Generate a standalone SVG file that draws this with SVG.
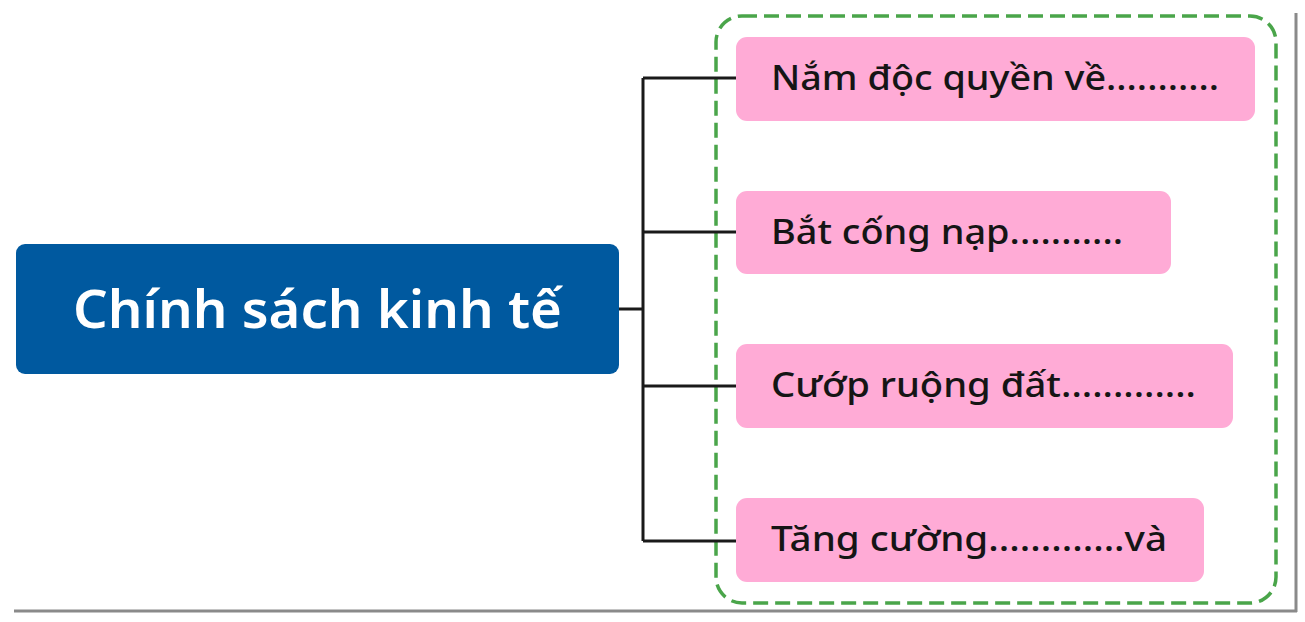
<svg xmlns="http://www.w3.org/2000/svg" width="1305" height="622" viewBox="0 0 1305 622">
<style>
.frame{stroke:#8a8a8a;stroke-width:3;fill:none}
.conn{stroke:#1a1a1a;stroke-width:3;fill:none}
.group{fill:none;stroke:#4aa54a;stroke-width:3.5;stroke-dasharray:15 7}
.main{fill:#00599f}
.mainText{font-family:"Noto Sans","Open Sans",sans-serif;font-weight:600;font-size:52px;fill:#ffffff}
.leaf{fill:#ffabd6}
.leafText{font-family:"Noto Sans","Open Sans",sans-serif;font-weight:500;font-size:34px;fill:#151515}
</style>
<rect width="1305" height="622" fill="#ffffff"/>
<g id="frame">
<line class="frame" x1="14" y1="611" x2="1297" y2="611"/>
<line class="frame" x1="1296" y1="13" x2="1296" y2="612"/>
</g>
<g id="group-box">
<rect class="group" x="716" y="16" width="560" height="587" rx="26"/>
</g>
<g id="connectors">
<path class="conn" d="M619 309 H643 M643 78 V541 M643 78 H736 M643 232 H736 M643 386 H736 M643 541 H736"/>
</g>
<g id="main-node">
<rect class="main" x="16" y="244" width="603" height="130" rx="9"/>
<text class="mainText" x="73" y="328" textLength="489" lengthAdjust="spacingAndGlyphs">Chính sách kinh tế</text>
</g>
<g id="node-1">
<rect class="leaf" x="736" y="37" width="519" height="84" rx="11"/>
<text class="leafText" x="771" y="90" textLength="448" lengthAdjust="spacingAndGlyphs">Nắm độc quyền về...........</text>
</g>
<g id="node-2">
<rect class="leaf" x="736" y="191" width="435" height="83" rx="11"/>
<text class="leafText" x="771" y="244" textLength="352" lengthAdjust="spacingAndGlyphs">Bắt cống nạp...........</text>
</g>
<g id="node-3">
<rect class="leaf" x="736" y="344" width="497" height="84" rx="11"/>
<text class="leafText" x="771" y="397" textLength="425" lengthAdjust="spacingAndGlyphs">Cướp ruộng đất.............</text>
</g>
<g id="node-4">
<rect class="leaf" x="736" y="498" width="468" height="84" rx="11"/>
<text class="leafText" x="771" y="551" textLength="396" lengthAdjust="spacingAndGlyphs">Tăng cường.............và</text>
</g>
</svg>
